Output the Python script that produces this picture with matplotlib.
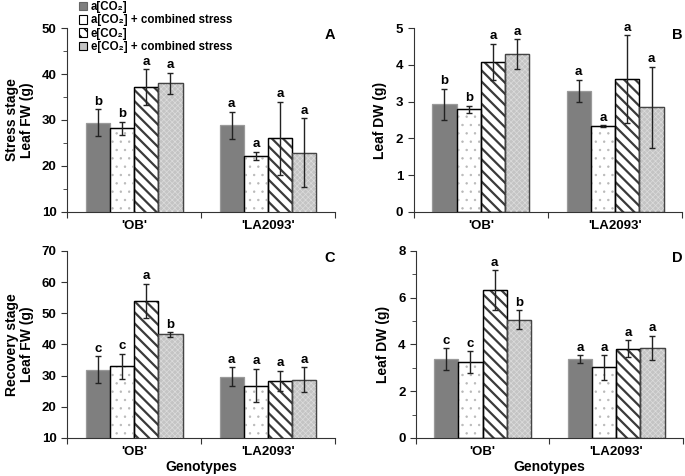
import matplotlib
matplotlib.use("Agg")
import matplotlib.pyplot as plt
from matplotlib.patches import Patch
from matplotlib.ticker import MultipleLocator

plt.rcParams['font.family'] = ['Liberation Sans', 'DejaVu Sans']
plt.rcParams['font.weight'] = 'bold'
plt.rcParams['axes.labelweight'] = 'bold'

# data
genotypes = ["'OB'", "'LA2093'"]
treatments = ["a[CO₂]", "a[CO₂] + combined stress", "e[CO₂]", "e[CO₂] + combined stress"]

# panel A: stress stage, leaf FW (rows = treatment, cols = genotype)
fw_stress = [[29.4, 28.8], [28.2, 22.2], [37.2, 26.0], [38.0, 22.9]]
fw_stress_err = [[3.0, 3.0], [1.4, 0.9], [3.9, 8.0], [2.3, 7.5]]
fw_stress_let = [["b", "a"], ["b", "a"], ["a", "a"], ["a", "a"]]

# panel B: stress stage, leaf DW
dw_stress = [[2.93, 3.29], [2.79, 2.34], [4.08, 3.61], [4.29, 2.85]]
dw_stress_err = [[0.42, 0.31], [0.10, 0.02], [0.50, 1.19], [0.41, 1.10]]
dw_stress_let = [["b", "a"], ["b", "a"], ["a", "a"], ["a", "a"]]

# panel C: recovery stage, leaf FW
fw_rec = [[31.9, 29.6], [33.0, 26.8], [54.0, 28.3], [43.2, 28.6]]
fw_rec_err = [[4.4, 3.0], [4.0, 5.4], [5.5, 3.3], [0.8, 4.0]]
fw_rec_let = [["c", "a"], ["c", "a"], ["a", "a"], ["b", "a"]]

# panel D: recovery stage, leaf DW
dw_rec = [[3.37, 3.37], [3.24, 3.02], [6.33, 3.82], [5.06, 3.85]]
dw_rec_err = [[0.46, 0.17], [0.47, 0.53], [0.85, 0.35], [0.40, 0.52]]
dw_rec_let = [["c", "a"], ["c", "a"], ["a", "a"], ["b", "a"]]

# styles: face, edge, hatch, hatch colour, hatch width
styles = [
    ("#7f7f7f", "#9a9a9a", None, None, 0),
    ("white", "black", "..", "#b8b8b8", 0.5),
    ("white", "black", "\\\\\\", "#3a3a3a", 1.6),
    ("#c4c4c4", "#444444", "xxxxxx", "#dcdcdc", 0.5),
]

BAR_W = 0.181
FS = 9.5


def add_bars(ax, vals, errs, lets):
    for i, (face, edge, hatch, hcol, hw) in enumerate(styles):
        xs = [g + 0.5 + (i - 1.5) * BAR_W for g in range(len(genotypes))]
        ax.bar(xs, vals[i], BAR_W, color=face, edgecolor=edge, linewidth=0.9, zorder=2)
        if hatch:
            with plt.rc_context({'hatch.linewidth': hw}):
                hb = ax.bar(xs, vals[i], BAR_W, fill=False, edgecolor=hcol,
                            hatch=hatch, linewidth=0, zorder=3)
            for p in hb:
                if hasattr(p, 'set_hatch_linewidth'):
                    p.set_hatch_linewidth(hw)
            ax.bar(xs, vals[i], BAR_W, fill=False, edgecolor=edge, linewidth=0.9, zorder=4)
        ax.errorbar(xs, vals[i], yerr=errs[i], fmt='none', ecolor='#222222',
                    elinewidth=1, capsize=2.5, capthick=1, zorder=5)
        for x, v, e, l in zip(xs, vals[i], errs[i], lets[i]):
            ax.annotate(l, (x, v + e), xytext=(0, 1), textcoords='offset points',
                        ha='center', va='bottom', fontsize=FS, fontweight='bold')


def style_axis(ax, ymin, ymax, major, minor, letter, ylabel):
    ax.set_xlim(0, 2)
    ax.set_ylim(ymin, ymax)
    ax.yaxis.set_major_locator(MultipleLocator(major))
    if minor:
        ax.yaxis.set_minor_locator(MultipleLocator(minor))
    ax.spines['top'].set_visible(False)
    ax.spines['right'].set_visible(False)
    for s in ('left', 'bottom'):
        ax.spines[s].set_color('#333333')
    ax.set_xticks([0, 1, 2])
    ax.set_xticklabels([])
    ax.set_xticks([0.5, 1.5], minor=True)
    ax.set_xticklabels(genotypes, minor=True, fontsize=FS, fontweight='bold')
    ax.tick_params(axis='x', which='major', direction='out', length=4, color='#333333')
    ax.tick_params(axis='x', which='minor', length=0, pad=6)
    ax.tick_params(axis='y', which='both', direction='out', color='#333333', labelsize=FS)
    ax.tick_params(axis='y', which='minor', length=3)
    ax.tick_params(axis='y', which='major', length=4)
    for t in ax.get_yticklabels():
        t.set_fontweight('bold')
    ax.set_ylabel(ylabel, fontsize=10, labelpad=6)
    ax.text(1.0, 0.96, letter, transform=ax.transAxes, ha='right', va='center',
            fontsize=10.5, fontweight='bold')


fig = plt.figure(figsize=(6.85, 4.76), dpi=100)
axA = fig.add_axes([0.098, 0.555, 0.391, 0.386])
axB = fig.add_axes([0.604, 0.555, 0.392, 0.386])
axC = fig.add_axes([0.098, 0.080, 0.391, 0.393])
axD = fig.add_axes([0.607, 0.080, 0.390, 0.393])

add_bars(axA, fw_stress, fw_stress_err, fw_stress_let)
style_axis(axA, 10, 50, 10, 5, "A", "Leaf FW (g)")
add_bars(axB, dw_stress, dw_stress_err, dw_stress_let)
style_axis(axB, 0, 5, 1, None, "B", "Leaf DW (g)")
add_bars(axC, fw_rec, fw_rec_err, fw_rec_let)
style_axis(axC, 10, 70, 10, None, "C", "Leaf FW (g)")
axC.set_xlabel("Genotypes", fontsize=10, labelpad=1)
add_bars(axD, dw_rec, dw_rec_err, dw_rec_let)
style_axis(axD, 0, 8, 2, 1, "D", "Leaf DW (g)")
axD.set_xlabel("Genotypes", fontsize=10, labelpad=1)

fig.text(0.018, 0.748, "Stress stage", rotation=90, ha='center', va='center',
         fontsize=10, fontweight='bold')
fig.text(0.018, 0.276, "Recovery stage", rotation=90, ha='center', va='center',
         fontsize=10, fontweight='bold')

legend_hatch = [None, None, "\\\\\\", None]
handles = [Patch(facecolor=s[0], edgecolor=('#666666' if i == 0 else 'black'),
                 hatch=legend_hatch[i], linewidth=0.8)
           for i, s in enumerate(styles)]
fig.legend(handles, treatments, loc='upper left', bbox_to_anchor=(0.103, 1.015),
           frameon=False, handlelength=0.75, handleheight=0.75,
           handletextpad=0.3, labelspacing=0.12, borderpad=0.2,
           prop={'weight': 'bold', 'size': 8.3})

fig.savefig("out.png", dpi=100)
